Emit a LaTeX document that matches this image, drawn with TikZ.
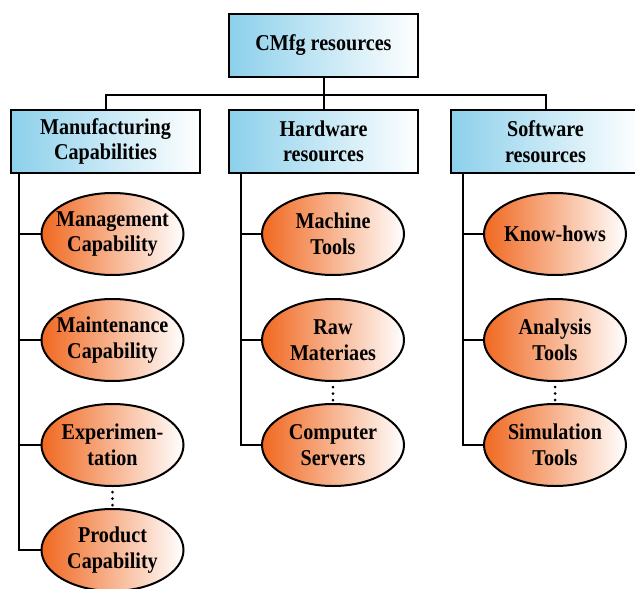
\documentclass[tikz,border=0pt]{standalone}
\usepackage{fontspec}
\setmainfont{Liberation Serif}[FakeStretch=0.89]
\usepackage{tikz}
\usetikzlibrary{shapes.geometric}

\definecolor{boxblue}{RGB}{140,208,235}
\definecolor{itemorange}{RGB}{240,104,32}

\begin{document}
\begin{tikzpicture}
[x=1pt,y=-1pt,line width=2pt,
 font=\fontsize{22.6}{25.5}\selectfont\bfseries,
 resbox/.style={rectangle,draw,left color=boxblue,right color=white,align=center,inner sep=0pt,minimum width=189pt,minimum height=63pt},
 item/.style={ellipse,draw,left color=itemorange,right color=white,inner sep=0pt,minimum width=142pt,minimum height=82pt},
 itemtext/.style={align=center,inner sep=0pt},
 more/.style={line cap=round,line width=3pt,dash pattern=on 0pt off 6.5pt,shorten <=5pt,shorten >=2pt},
 vh path/.style={to path={|- (\tikztotarget)}}]
\useasboundingbox (0,0) rectangle (635,589);
\node[resbox] (cmfg) at (323.5,45) {CMfg resources};
\node[resbox] (manu) at (105.5,141.5) {Manufacturing\\Capabilities};
\node[resbox] (hard) at (323.5,141.5) {Hardware\\resources};
\node[resbox] (soft) at (545.5,141.5) {Software\\resources};
\coordinate (bus) at (323.5,95);
\draw (cmfg) -- (hard);
\draw (manu) |- (bus) -| (soft);
%
\node[item] (m1) at (112.5,234) {};
\node[item] (m2) at (112.5,340) {};
\node[item] (m3) at (112.5,445) {};
\node[item] (m4) at (112.5,550) {};
\node[itemtext] (m1t) at (m1) {Management\\Capability};
\node[itemtext] (m2t) at (m2) {Maintenance\\Capability};
\node[itemtext] (m3t) at (m3) {Experimen-\\tation};
\node[itemtext] (m4t) at (m4) {Product\\Capability};
\coordinate (mtrunk) at (19,172);
\path (mtrunk) edge[vh path] (m1.west)
               edge[vh path] (m2.west)
               edge[vh path] (m3.west)
               edge[vh path] (m4.west);
\draw[more] (m3.south) -- (m4.north);
%
\node[item] (h1) at (333,234) {};
\node[item] (h2) at (333,340) {};
\node[item] (h3) at (333,445) {};
\node[itemtext] (h1t) at (h1) {Machine\\Tools};
\node[itemtext] (h2t) at (h2) {Raw\\Materiaes};
\node[itemtext] (h3t) at (h3) {Computer\\Servers};
\coordinate (htrunk) at (241,172);
\path (htrunk) edge[vh path] (h1.west)
               edge[vh path] (h2.west)
               edge[vh path] (h3.west);
\draw[more] (h2.south) -- (h3.north);
%
\node[item] (s1) at (555,234) {};
\node[item] (s2) at (555,340) {};
\node[item] (s3) at (555,445) {};
\node[itemtext] (s1t) at (s1) {Know-hows};
\node[itemtext] (s2t) at (s2) {Analysis\\Tools};
\node[itemtext] (s3t) at (s3) {Simulation\\Tools};
\coordinate (strunk) at (463,172);
\path (strunk) edge[vh path] (s1.west)
               edge[vh path] (s2.west)
               edge[vh path] (s3.west);
\draw[more] (s2.south) -- (s3.north);
\end{tikzpicture}
\end{document}
